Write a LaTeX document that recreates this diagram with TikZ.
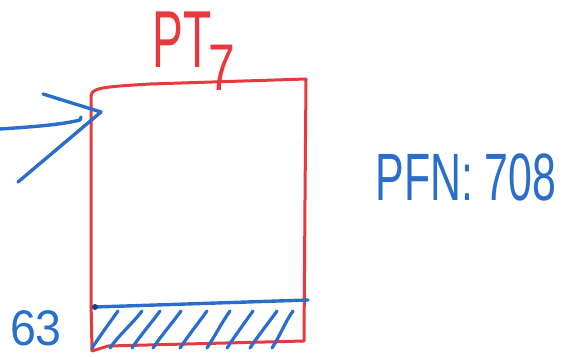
\documentclass[tikz,border=0pt]{standalone}
\usepackage{fontspec}
\setmainfont{Liberation Sans}
\usepackage{graphicx}
\definecolor{penred}{RGB}{232,58,62}
\definecolor{penblue}{RGB}{42,110,204}
\tikzset{
  redpen/.style={draw=penred, line width=3pt, line cap=round, line join=round},
  bluepen/.style={draw=penblue, line width=3.4pt, line cap=round, line join=round},
  hand/.style={inner sep=0pt, outer sep=0pt}
}
\begin{document}
\begin{tikzpicture}[x=1pt,y=-1pt]
\useasboundingbox (0,0) rectangle (578,356);
% page table box
\coordinate (tl) at (91,97);
\coordinate (tr) at (306,79);
\coordinate (br) at (304,341);
\coordinate (bl) at (92,351);
\draw[redpen] (bl) -- (91,300) -- (tl) .. controls (91,88) and (100,87) .. (150,84) -- (tr) -- (305,200) -- (br) -- (108,346) -- (bl);
% entry 63
\coordinate (el) at (95,307);
\coordinate (er) at (308,300);
\draw[bluepen] (el) -- (er);
\fill[penblue!60!black] (el) circle (3pt);
\foreach \b/\t in {92/118,110/142,132/160,153/181,180/207,207/230,227/253,250/277,272/293}
  \draw[bluepen, line width=3.2pt] (\b,348) .. controls (\b+8,336) and (\t-8,322) .. (\t,311);
% labels
\node[hand, text=penred] (pt) at (182,40) {\scalebox{0.6}[1.05]{\fontsize{77}{77}\selectfont PT}};
\node[hand, text=penred] (seven) at (222,68) {\scalebox{0.8}[1.1]{\fontsize{60}{60}\selectfont 7}};
\node[hand, text=penblue] (idx) at (36,328) {\scalebox{0.93}[1]{\fontsize{50}{50}\selectfont 63}};
\node[hand, text=penblue] (pfn) at (466,177) {\scalebox{0.64}[1]{\fontsize{67}{67}\selectfont PFN: 708}};
% incoming pointer
\coordinate (src) at (0,129);
\coordinate (tip) at (101,112);
\coordinate (h1) at (43,94);
\coordinate (h2) at (18,182);
\draw[bluepen] (src) .. controls (30,127) and (60,125) .. (80,120) -- (81,117);
\draw[bluepen] (h1) -- (tip) -- (h2);
\end{tikzpicture}
\end{document}
